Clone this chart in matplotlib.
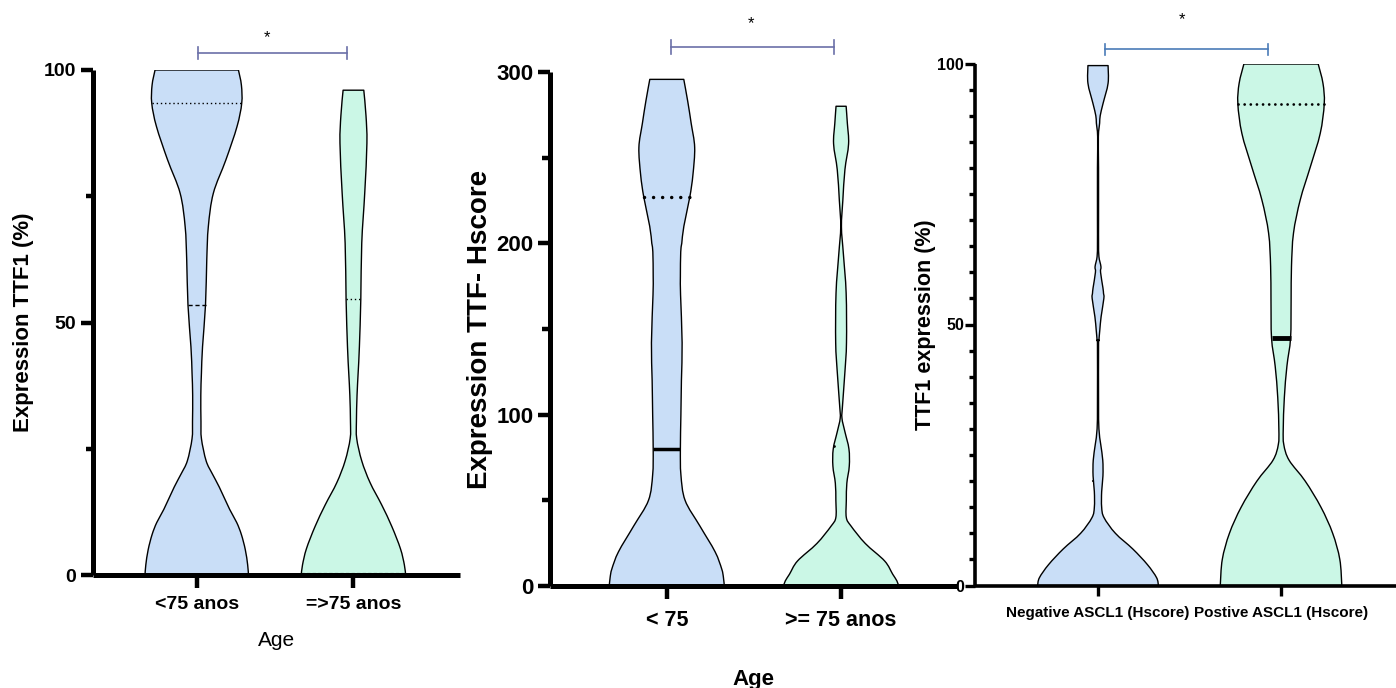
import numpy as np
import matplotlib.pyplot as plt
from matplotlib import font_manager
from matplotlib.patches import PathPatch
from matplotlib.path import Path
from matplotlib.ticker import MultipleLocator

plt.rcParams['font.family'] = ['Liberation Sans', 'DejaVu Sans']

# panel 3 uses a condensed face in the original; fall back to a smaller size if missing
_names = {f.name for f in font_manager.fontManager.ttflist}
if 'Liberation Sans Narrow' in _names:
    NARROW, XS3, YS3 = 'Liberation Sans Narrow', 13, 12.5
else:
    NARROW, XS3, YS3 = 'Liberation Sans', 11, 11.5

BLUE = '#c9def7'
GREEN = '#cbf7e6'

# ---- panel 1: TTF1 (%) by age ----
p1_cats = ['<75 anos', '=>75 anos']
p1_a_y = [0, 2, 5, 8, 10.4, 13, 17.4, 20, 22.6, 27, 30.4, 35.6, 40, 45.2, 53.5, 62.4, 69, 75.6, 82.2, 88.8, 93.4, 97, 100]
p1_a_w = [0.33, 0.325, 0.31, 0.285, 0.255, 0.21, 0.144, 0.1, 0.06, 0.03, 0.027, 0.026, 0.03, 0.037, 0.056, 0.064, 0.074, 0.106, 0.186, 0.257, 0.287, 0.285, 0.266]
p1_b_y = [0, 2, 5.2, 9.6, 13.9, 18.3, 22.6, 27, 30.4, 35.6, 40, 45.2, 54.6, 65.7, 75.6, 85.5, 91, 96]
p1_b_w = [0.333, 0.325, 0.3, 0.245, 0.18, 0.106, 0.053, 0.021, 0.019, 0.023, 0.03, 0.038, 0.047, 0.053, 0.072, 0.086, 0.08, 0.066]
p1_med = [53.5, 54.6]
p1_q3 = [93.4, None]
p1_q1 = [None, 0.3]

# ---- panel 2: TTF Hscore by age ----
p2_cats = ['< 75', '>= 75 anos']
p2_a_y = [0, 5, 10, 20, 35, 50, 65, 80, 100, 120, 142, 170, 180.5, 195, 200, 210, 227, 240, 256, 270, 283, 295.7]
p2_a_w = [0.33, 0.325, 0.315, 0.277, 0.19, 0.105, 0.081, 0.078, 0.081, 0.084, 0.088, 0.079, 0.078, 0.08, 0.086, 0.098, 0.132, 0.15, 0.16, 0.14, 0.12, 0.0975]
p2_b_y = [0, 3, 6.9, 14.6, 24.8, 35, 40, 50, 60, 70, 80, 90, 98, 105, 125, 142, 171, 194, 209.7, 225, 243, 258, 270, 280]
p2_b_w = [0.33, 0.32, 0.296, 0.25, 0.139, 0.057, 0.03, 0.03, 0.033, 0.047, 0.045, 0.022, 0.005, 0.008, 0.022, 0.031, 0.029, 0.013, 0.002, 0.01, 0.022, 0.043, 0.036, 0.029]
p2_med = [80, 82]
p2_q3 = [227, None]

# ---- panel 3: TTF1 (%) by ASCL1 ----
p3_cats = ['Negative ASCL1 (Hscore)', 'Postive ASCL1 (Hscore)']
p3_a_y = [0, 1.5, 4, 7, 10, 13, 15, 18, 21, 24, 27, 30, 35, 46, 47, 49, 51.5, 55, 56, 57, 60, 61.1, 63, 65.6, 70, 80, 86, 88.6, 90, 92.4, 96.2, 99.6]
p3_a_w = [0.33, 0.32, 0.27, 0.19, 0.095, 0.033, 0.02, 0.02, 0.027, 0.026, 0.015, 0.005, 0.003, 0.003, 0.005, 0.01, 0.017, 0.032, 0.03, 0.027, 0.014, 0.016, 0.005, 0.003, 0.003, 0.003, 0.002, 0.009, 0.012, 0.028, 0.055, 0.055]
p3_b_y = [0, 5, 10, 15, 20, 24, 27, 30, 36, 42, 47.4, 54.7, 61.1, 67.5, 73.9, 80.2, 86.6, 92.3, 96.2, 99.9]
p3_b_w = [0.332, 0.321, 0.282, 0.218, 0.132, 0.044, 0.015, 0.012, 0.018, 0.032, 0.052, 0.055, 0.057, 0.068, 0.105, 0.16, 0.214, 0.236, 0.229, 0.203]
p3_med = [20, 47.4]
p3_q3 = [None, 92.3]


def smooth_side(pts):
    # catmull-rom through the read outline points, as cubic bezier segments
    p = np.vstack([pts[0], pts, pts[-1]])
    verts, codes = [], []
    for i in range(1, len(p) - 2):
        c1 = p[i] + (p[i + 1] - p[i - 1]) / 6
        c2 = p[i + 1] - (p[i + 2] - p[i]) / 6
        verts += [c1, c2, p[i + 1]]
        codes += [Path.CURVE4] * 3
    return verts, codes


def violin(ax, pos, ys, ws, color):
    ys = np.asarray(ys, float)
    ws = np.asarray(ws, float)
    left = np.column_stack([pos - ws, ys])
    right = np.column_stack([pos + ws, ys])[::-1]
    v1, c1 = smooth_side(left)
    v2, c2 = smooth_side(right)
    verts = [left[0]] + v1 + [right[0]] + v2 + [left[0]]
    codes = [Path.MOVETO] + c1 + [Path.LINETO] + c2 + [Path.CLOSEPOLY]
    ax.add_patch(PathPatch(Path(verts, codes), facecolor=color, edgecolor='black',
                           lw=1, zorder=2, joinstyle='round'))


def hline(ax, pos, ys, ws, level, **kw):
    w = np.interp(level, ys, ws)
    ax.plot([pos - w, pos + w], [level, level], color='black', zorder=4, **kw)


def sig_bar(ax, x0, x1, y, ystar, xstar, color, cap):
    ax.plot([x0, x1], [y, y], color=color, lw=1.2, clip_on=False)
    for x in (x0, x1):
        ax.plot([x, x], [y - cap, y + cap], color=color, lw=1.2, clip_on=False)
    ax.text(xstar, ystar, '*', ha='center', va='center', fontsize=12, clip_on=False)


def style_axes(ax, lw, tl, tw, mtl):
    for s in ('top', 'right'):
        ax.spines[s].set_visible(False)
    for s in ('left', 'bottom'):
        ax.spines[s].set_linewidth(lw)
        ax.spines[s].set_capstyle('butt')
    ax.tick_params(axis='both', which='major', length=tl, width=tw, color='black')
    ax.tick_params(axis='y', which='minor', length=mtl, width=tw)
    ax.tick_params(axis='x', which='minor', length=0)


fig = plt.figure(figsize=(13.96, 6.88), dpi=100)

# panel 1
ax1 = fig.add_axes([93 / 1396, 1 - 575 / 688, 367 / 1396, 505 / 688])
violin(ax1, 0, p1_a_y, p1_a_w, BLUE)
violin(ax1, 1, p1_b_y, p1_b_w, GREEN)
hline(ax1, 0, p1_a_y, p1_a_w, p1_med[0], lw=1, linestyle=(0, (3, 2)))
hline(ax1, 0, p1_a_y, p1_a_w, p1_q3[0], lw=1, linestyle=(0, (1, 2)))
hline(ax1, 1, p1_b_y, p1_b_w, p1_med[1], lw=1, linestyle=(0, (1, 2)))
hline(ax1, 1, p1_b_y, p1_b_w, p1_q1[1], lw=0.8, linestyle=(0, (3, 2)))
ax1.set_xlim(-0.662, 1.68)
ax1.set_ylim(0, 100)
ax1.set_yticks([0, 50, 100])
ax1.yaxis.set_minor_locator(MultipleLocator(25))
ax1.set_xticks([0, 1])
ax1.set_xticklabels(p1_cats, fontsize=14, fontweight='bold')
ax1.set_yticklabels(['0', '50', '100'], fontsize=14, fontweight='bold')
style_axes(ax1, 3.6, 9, 3.2, 5)
ax1.tick_params(axis='x', pad=6)
ax1.tick_params(axis='y', pad=3)
ax1.set_xlabel('Age', fontsize=15, labelpad=13)
ax1.set_ylabel('Expression TTF1 (%)', fontsize=16, fontweight='bold', labelpad=7)
sig_bar(ax1, 0.01, 0.957, 103.4, 106.4, 0.447, '#6b70a8', 1.2)

# panel 2
ax2 = fig.add_axes([550 / 1396, 1 - 586 / 688, 407 / 1396, 514 / 688])
violin(ax2, 0, p2_a_y, p2_a_w, BLUE)
violin(ax2, 1, p2_b_y, p2_b_w, GREEN)
hline(ax2, 0, p2_a_y, p2_a_w, p2_med[0], lw=2.5, solid_capstyle='butt')
hline(ax2, 0, p2_a_y, p2_a_w, p2_q3[0], lw=2.5, linestyle=(0, (0.01, 2.6)), dash_capstyle='round')
hline(ax2, 1, p2_b_y, p2_b_w, p2_med[1], lw=2, linestyle=(0, (0.01, 6)), dash_capstyle='round')
ax2.set_xlim(-0.67, 1.665)
ax2.set_ylim(0, 300)
ax2.set_yticks([0, 100, 200, 300])
ax2.yaxis.set_minor_locator(MultipleLocator(50))
ax2.set_xticks([0, 1])
ax2.set_xticklabels(p2_cats, fontsize=15.5, fontweight='bold')
ax2.set_yticklabels(['0', '100', '200', '300'], fontsize=16, fontweight='bold')
style_axes(ax2, 3.6, 9, 3.2, 6)
ax2.tick_params(axis='x', pad=8)
ax2.tick_params(axis='y', pad=3)
ax2.set_xlabel('Age', fontsize=16, fontweight='bold', labelpad=28)
ax2.set_ylabel('Expression TTF- Hscore', fontsize=20, fontweight='bold', labelpad=2)
sig_bar(ax2, 0.025, 0.96, 314.4, 328, 0.484, '#6b70a8', 4)

# panel 3
ax3 = fig.add_axes([975 / 1396, 1 - 585.5 / 688, 421 / 1396, 522 / 688])
violin(ax3, 0, p3_a_y, p3_a_w, BLUE)
violin(ax3, 1, p3_b_y, p3_b_w, GREEN)
hline(ax3, 0, p3_a_y, p3_a_w, p3_med[0], lw=1.5, linestyle=(0, (0.01, 6)), dash_capstyle='round')
hline(ax3, 1, p3_b_y, p3_b_w, p3_med[1], lw=3.5, solid_capstyle='butt')
hline(ax3, 1, p3_b_y, p3_b_w, p3_q3[1], lw=2, linestyle=(0, (0.01, 2.2)), dash_capstyle='round')
ax3.set_xlim(-0.672, 1.628)
ax3.set_ylim(0, 100)
ax3.set_yticks([0, 50, 100])
ax3.yaxis.set_minor_locator(MultipleLocator(5))
ax3.set_xticks([0, 1])
ax3.set_xticklabels(p3_cats, fontsize=XS3, fontweight='bold', family=NARROW)
ax3.set_yticklabels(['0', '50', '100'], fontsize=YS3, fontweight='bold', family=NARROW)
style_axes(ax3, 2.6, 7, 2.4, 4)
ax3.tick_params(axis='x', pad=8)
ax3.tick_params(axis='y', pad=1)
ax3.set_ylabel('TTF1 expression (%)', fontsize=15.5, fontweight='bold', labelpad=1)
sig_bar(ax3, 0.04, 0.93, 102.7, 108.4, 0.46, '#4a7bb7', 1.1)

fig.savefig('out.png', dpi=100)
